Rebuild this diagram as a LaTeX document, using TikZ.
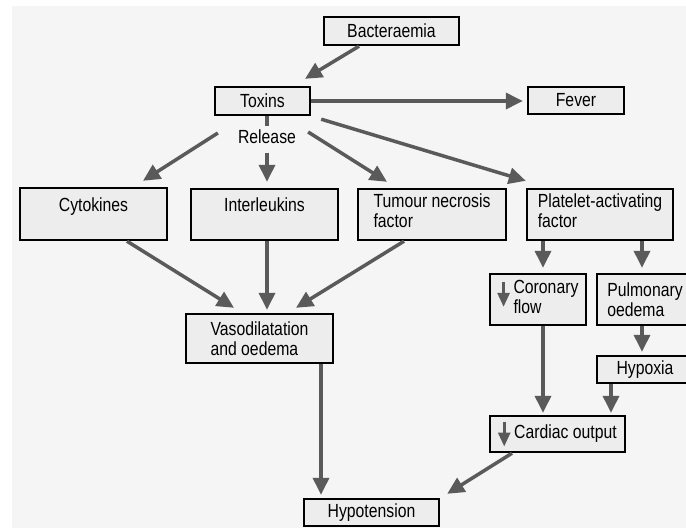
\documentclass[tikz,border=0pt]{standalone}
\usepackage{fontspec}
\setmainfont{Liberation Sans}[FakeStretch=0.83]
\usetikzlibrary{arrows.meta}

\definecolor{paper}{HTML}{F5F5F5}
\definecolor{boxfill}{HTML}{EDEDED}
\definecolor{arrowgrey}{HTML}{5A5A5A}

\tikzset{
  stage/.style={draw=black,line width=2.4pt,fill=boxfill,inner sep=0pt},
  flow/.style={draw=arrowgrey,line width=3.5pt,-{Triangle[length=17pt,width=16pt]}},
  link/.style={-,draw=arrowgrey,line width=3.5pt}
}

% small down arrow meaning "decreased"
\newcommand\decr[1][0pt]{\raisebox{#1}{\tikz[baseline=0pt]
  \draw[arrowgrey,line width=2.8pt,-{Triangle[length=14pt,width=12pt]}] (0pt,17pt) -- (0pt,-8pt);}}

\begin{document}
\begin{tikzpicture}[x=1pt,y=-1pt,font=\fontsize{19}{19.5}\selectfont]
      \clip (0,0) rectangle (686,528);
      \fill[white] (0,0) rectangle (686,528);
      \fill[paper] (12,6) rectangle (686,528);

      \draw (391.5,31) node [stage,minimum width=135pt,minimum height=28pt] (bact) {Bacteraemia};
      \draw (262.5,101) node [stage,minimum width=95pt,minimum height=28pt] (tox) {Toxins};
      \draw (576,100.5) node [stage,minimum width=96pt,minimum height=27pt] (fever) {Fever};
      \draw (267,137) node [inner sep=0pt] (release) {Release};

      \draw (93.5,214) node [stage,minimum width=147pt,minimum height=52pt,align=center]
      (cyto) {Cytokines\\\mbox{}};
      \draw (264.5,214.5) node [stage,minimum width=147pt,minimum height=51pt,align=center]
      (inter) {Interleukins\\\mbox{}};
      \draw (432,214.5) node [stage,minimum width=148pt,minimum height=51pt,align=left]
      (tumour) {Tumour necrosis\\factor\\[-12pt]\mbox{}};
      \draw (600,214.5) node [stage,minimum width=146pt,minimum height=51pt,align=left]
      (plat) {Platelet-activating\\factor\\[-12pt]\mbox{}};

      \draw (259.5,338.5) node [stage,minimum width=147pt,minimum height=49pt,align=left]
      (vaso) {Vasodilatation\\and oedema};
      \draw (538,299.5) node [stage,minimum width=96pt,minimum height=51pt]
      (coron) {\decr[5pt]\hspace{4pt}\begin{tabular}{@{}l@{}}Coronary\\flow\end{tabular}};
      \draw (645,299.5) node [stage,minimum width=96pt,minimum height=51pt,align=left]
      (pulm) {Pulmonary\\oedema};
      \draw (645,369.5) node [stage,minimum width=96pt,minimum height=27pt] (hypox) {Hypoxia};
      \draw (557.5,434) node [stage,minimum width=135pt,minimum height=36pt]
      (cardiac) {\decr\hspace{4pt}Cardiac output};
      \draw (371.5,512.5) node [stage,minimum width=135pt,minimum height=27pt] (hypot) {Hypotension};

      \scope[flow]
        \draw ([xshift=-32.5pt]bact.south) -- ([xshift=42.5pt,yshift=7pt]tox.north);
        \draw[shorten >=4pt] (tox.east) -- (tox.east -| fever.west);
        \draw[link] (release.north |- tox.south) -- ([yshift=3.5pt]release.north);
        \draw[shorten >=6pt] ([yshift=-8.5pt]release.south) -- (release.south |- inter.north);
        \draw ([xshift=-20pt,yshift=4pt]release.west) -- ([xshift=49.5pt,yshift=6pt]cyto.north);
        \draw ([xshift=12pt,yshift=5pt]release.east) -- ([xshift=-45pt,yshift=6pt]tumour.north);
        \draw ([xshift=10pt,yshift=-3pt]tox.south east) -- ([yshift=7pt]plat.north west);

        \draw ([xshift=33.5pt]cyto.south) -- ([xshift=-25.5pt,yshift=5pt]vaso.north);
        \draw[shorten >=3pt] (release.south |- inter.south) -- (release.south |- vaso.north);
        \draw ([xshift=-28pt]tumour.south) -- ([xshift=36.5pt,yshift=5pt]vaso.north);
        \draw ([xshift=61.5pt]vaso.south) -- ([xshift=-50.5pt,yshift=3pt]hypot.north);

        \draw ([xshift=-57pt]plat.south) -- ([xshift=5pt,yshift=5pt]coron.north);
        \draw ([xshift=42pt]plat.south) -- ([xshift=-3pt,yshift=5pt]pulm.north);
        \draw ([xshift=5pt]coron.south) -- ([xshift=-14.5pt,yshift=2pt]cardiac.north);
        \draw ([xshift=-3pt]pulm.south) -- ([xshift=-3pt,yshift=3pt]hypox.north);
        \draw ([xshift=-34pt]hypox.south) -- ([xshift=53.5pt,yshift=2pt]cardiac.north);
        \draw ([xshift=-45.5pt]cardiac.south) -- ([xshift=7pt,yshift=4pt]hypot.north east);
      \endscope
\end{tikzpicture}
\end{document}
